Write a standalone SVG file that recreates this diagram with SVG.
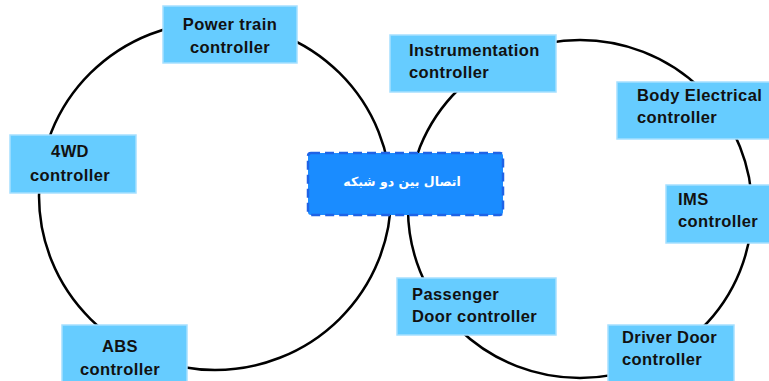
<svg xmlns="http://www.w3.org/2000/svg" width="769" height="381" viewBox="0 0 769 381">
<style>
.ring{fill:none;stroke:#000;stroke-width:2.5}
.box{fill:#66ccff;stroke:#a6e0ff;stroke-width:1.5}
.t{font-family:"Liberation Sans",Arial,sans-serif;font-weight:bold;font-size:16.5px;fill:#111;letter-spacing:0.4px}
.c{text-anchor:middle}
.hub{fill:#1a8cff;stroke:#1f63e6;stroke-width:2.5;stroke-dasharray:9 5}
.ht{font-family:"DejaVu Sans",sans-serif;font-weight:bold;font-size:12.5px;fill:#fff;text-anchor:middle}
</style>
<rect width="769" height="381" fill="#fff"/>
<g id="connectors">
<ellipse class="ring" cx="215" cy="196" rx="176" ry="174"/>
<ellipse class="ring" cx="580" cy="209" rx="172" ry="169"/>
</g>
<g id="powertrain">
<rect class="box" x="163" y="6" width="134" height="57"/>
<text class="t c" x="230" y="30">Power train</text>
<text class="t c" x="230" y="53">controller</text>
</g>
<g id="hub">
<rect class="hub" x="308" y="153" width="195" height="62" rx="3"/>
<text class="ht" x="402" y="186" direction="rtl">اتصال بین دو شبکه</text>
</g>
<g id="wd4">
<rect class="box" x="10" y="135" width="126" height="58"/>
<text class="t c" x="70" y="157">4WD</text>
<text class="t c" x="70" y="181">controller</text>
</g>
<g id="abs">
<rect class="box" x="62" y="325" width="125" height="62"/>
<text class="t c" x="120" y="352">ABS</text>
<text class="t c" x="120" y="375">controller</text>
</g>
<g id="instrumentation">
<rect class="box" x="390" y="35" width="166" height="57"/>
<text class="t" x="409" y="56">Instrumentation</text>
<text class="t" x="409" y="78">controller</text>
</g>
<g id="bodyelectrical">
<rect class="box" x="617" y="82" width="160" height="57"/>
<text class="t" x="637" y="101">Body Electrical</text>
<text class="t" x="637" y="123">controller</text>
</g>
<g id="ims">
<rect class="box" x="666" y="185" width="110" height="58"/>
<text class="t" x="678" y="205">IMS</text>
<text class="t" x="678" y="227">controller</text>
</g>
<g id="passenger">
<rect class="box" x="397" y="278" width="159" height="57"/>
<text class="t" x="412" y="300">Passenger</text>
<text class="t" x="412" y="322">Door controller</text>
</g>
<g id="driverdoor">
<rect class="box" x="608" y="325" width="126" height="62"/>
<text class="t" x="622" y="343">Driver Door</text>
<text class="t" x="622" y="365">controller</text>
</g>
</svg>
